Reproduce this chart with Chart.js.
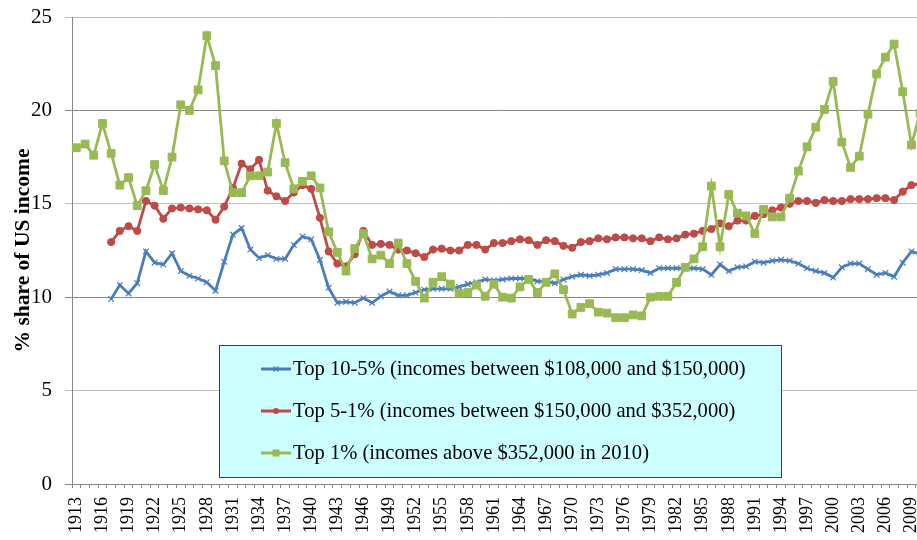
<!DOCTYPE html>
<html>
<head>
<meta charset="utf-8">
<script src="https://cdn.jsdelivr.net/npm/chart.js@4.4.1/dist/chart.umd.min.js"></script>
<style>
  html, body { margin: 0; padding: 0; background: #ffffff; overflow: hidden; width: 917px; height: 540px; }
  canvas { display: block; }
</style>
</head>
<body>
<canvas id="c" width="931" height="540"></canvas>
<script>
const years = [1913,1914,1915,1916,1917,1918,1919,1920,1921,1922,1923,1924,1925,1926,1927,1928,1929,1930,
  1931,1932,1933,1934,1935,1936,1937,1938,1939,1940,1941,1942,1943,1944,1945,1946,1947,1948,1949,1950,
  1951,1952,1953,1954,1955,1956,1957,1958,1959,1960,1961,1962,1963,1964,1965,1966,1967,1968,1969,1970,
  1971,1972,1973,1974,1975,1976,1977,1978,1979,1980,1981,1982,1983,1984,1985,1986,1987,1988,1989,1990,
  1991,1992,1993,1994,1995,1996,1997,1998,1999,2000,2001,2002,2003,2004,2005,2006,2007,2008,2009,2010];

const xTickLabels = [1913,1916,1919,1922,1925,1928,1931,1934,1937,1940,1943,1946,1949,1952,1955,1958,
  1961,1964,1967,1970,1973,1976,1979,1982,1985,1988,1991,1994,1997,2000,2003,2006,2009];

const yTickValues = [0,5,10,15,20,25];

const seriesNames = [
  'Top 10-5% (incomes between $108,000 and $150,000)',
  'Top 5-1% (incomes between $150,000 and $352,000)',
  'Top 1% (incomes above $352,000 in 2010)'
];

// Top 10-5%
const top10to5 = [null,null,null,null,9.9,10.65,10.2,10.75,12.45,11.85,11.75,12.35,11.4,11.15,11.0,10.8,10.35,11.9,
  13.35,13.7,12.55,12.1,12.25,12.05,12.05,12.8,13.25,13.1,12.0,10.5,9.7,9.75,9.7,9.95,9.7,10.05,10.3,10.1,
  10.1,10.25,10.4,10.45,10.45,10.45,10.55,10.7,10.8,10.95,10.9,10.95,11.0,11.0,11.0,10.85,10.85,10.75,10.95,11.1,
  11.2,11.15,11.2,11.3,11.5,11.5,11.5,11.45,11.3,11.55,11.55,11.55,11.55,11.55,11.5,11.2,11.75,11.4,11.6,11.65,
  11.9,11.85,11.95,12.0,11.95,11.8,11.55,11.4,11.3,11.05,11.6,11.8,11.8,11.5,11.2,11.3,11.1,11.85,12.45,12.3];

// Top 5-1%
const top5to1 = [null,null,null,null,12.95,13.55,13.8,13.55,15.15,14.9,14.2,14.75,14.8,14.75,14.7,14.65,14.15,14.85,
  15.85,17.15,16.85,17.35,15.7,15.4,15.15,15.6,16.0,15.8,14.25,12.45,11.8,11.65,12.3,13.55,12.8,12.85,12.8,12.55,
  12.5,12.35,12.15,12.55,12.6,12.5,12.5,12.8,12.8,12.55,12.9,12.9,13.0,13.1,13.05,12.8,13.05,13.0,12.75,12.65,
  12.95,13.0,13.15,13.1,13.2,13.2,13.15,13.15,13.0,13.2,13.1,13.15,13.35,13.4,13.55,13.65,13.95,13.8,14.1,14.1,
  14.35,14.45,14.65,14.8,15.0,15.15,15.15,15.05,15.2,15.15,15.15,15.25,15.25,15.25,15.3,15.3,15.2,15.65,16.0,16.05];

// Top 1%
const top1 = [18.0,18.2,17.6,19.3,17.7,16.0,16.4,14.9,15.7,17.1,15.7,17.5,20.3,20.0,21.1,24.0,22.4,17.3,
  15.6,15.6,16.5,16.5,16.7,19.3,17.2,15.8,16.2,16.5,15.85,13.5,12.4,11.4,12.6,13.4,12.05,12.25,11.8,12.9,
  11.8,10.85,9.95,10.8,11.1,10.7,10.2,10.25,10.65,10.05,10.7,10.0,9.95,10.55,10.95,10.25,10.8,11.25,10.4,9.1,
  9.45,9.65,9.2,9.15,8.9,8.9,9.05,9.0,10.0,10.05,10.05,10.8,11.6,12.05,12.7,15.95,12.7,15.5,14.5,14.35,
  13.4,14.7,14.3,14.3,15.3,16.75,18.05,19.1,20.05,21.55,18.3,16.95,17.55,19.8,21.95,22.85,23.55,21.0,18.15,19.85];

const BLUE = '#4A7EBB', RED = '#BE4B48', GREEN = '#98B954';
const AXIS = '#868686', LIGHTGRID = '#BFBFBF';
const SERIF = "'Liberation Serif', 'Times New Roman', serif";

function drawMarker(ctx, kind, x, y, r, color) {
  ctx.save();
  ctx.fillStyle = color; ctx.strokeStyle = color; ctx.lineWidth = 1.2;
  if (kind === 'crossRot') {
    ctx.beginPath();
    ctx.moveTo(x - r, y - r); ctx.lineTo(x + r, y + r);
    ctx.moveTo(x - r, y + r); ctx.lineTo(x + r, y - r);
    ctx.stroke();
  } else if (kind === 'circle') {
    ctx.beginPath(); ctx.arc(x, y, r, 0, Math.PI * 2); ctx.fill();
  } else {
    ctx.fillRect(x - r, y - r, 2 * r, 2 * r);
  }
  ctx.restore();
}

const legendBox = {
  id: 'legendBox',
  afterDraw(chart) {
    const ctx = chart.ctx;
    ctx.save();
    const bx = 219.5, by = 345.5, bw = 562, bh = 132;
    ctx.fillStyle = '#CCFFFF';
    ctx.fillRect(bx, by, bw, bh);
    ctx.strokeStyle = '#404040'; ctx.lineWidth = 1;
    ctx.strokeRect(bx, by, bw, bh);
    const rows = [369, 411, 453];
    const kinds = ['crossRot', 'circle', 'rect'];
    const sizes = [2.5, 3, 3.5];
    chart.data.datasets.forEach((ds, i) => {
      const y = rows[i];
      ctx.strokeStyle = ds.borderColor; ctx.lineWidth = 3;
      ctx.beginPath(); ctx.moveTo(261, y); ctx.lineTo(291, y); ctx.stroke();
      drawMarker(ctx, kinds[i], 276, y, sizes[i], ds.borderColor);
      ctx.fillStyle = '#000000';
      ctx.font = '20.6px ' + SERIF;
      ctx.textBaseline = 'middle'; ctx.textAlign = 'left';
      ctx.fillText(ds.label, 293, y + 1);
    });
    ctx.restore();
  }
};

new Chart(document.getElementById('c'), {
  type: 'line',
  data: {
    labels: years.map(String),
    datasets: [
      { label: seriesNames[0], data: top10to5, borderColor: BLUE, backgroundColor: BLUE,
        borderWidth: 2.8, pointStyle: 'crossRot', pointRadius: 4, pointBorderWidth: 1.2,
        pointBorderColor: BLUE, order: 2, tension: 0, spanGaps: false },
      { label: seriesNames[1], data: top5to1, borderColor: RED, backgroundColor: RED,
        borderWidth: 2.8, pointStyle: 'circle', pointRadius: 3.6, pointBorderWidth: 1,
        pointBorderColor: RED, order: 1, tension: 0 },
      { label: seriesNames[2], data: top1, borderColor: GREEN, backgroundColor: GREEN,
        borderWidth: 2.8, pointStyle: 'rect', pointRadius: 5.5, pointBorderWidth: 1,
        pointBorderColor: GREEN, order: 0, tension: 0 }
    ]
  },
  options: {
    responsive: false,
    animation: false,
    devicePixelRatio: 1,
    layout: { padding: { left: 0, right: 4, top: 17, bottom: 0 } },
    plugins: { legend: { display: false }, tooltip: { enabled: false }, title: { display: false } },
    scales: {
      x: {
        type: 'category',
        offset: true,
        grid: { offset: true, drawOnChartArea: false, drawTicks: true, tickLength: 4, color: AXIS, lineWidth: 1 },
        border: { display: true, color: AXIS, width: 1 },
        ticks: {
          autoSkip: false, minRotation: 90, maxRotation: 90, padding: 9, color: '#000000',
          font: { family: SERIF, size: 18 },
          callback: function (val, idx) {
            const yr = years[idx];
            return xTickLabels.includes(yr) ? String(yr) : '';
          }
        },
        afterFit: function (scale) {
          scale.height = 56;
          scale.paddingLeft = 0; scale.paddingRight = 0;
        }
      },
      y: {
        min: 0, max: 25,
        afterBuildTicks: function (scale) { scale.ticks = yTickValues.map(v => ({ value: v })); },
        grid: {
          color: function (c) { return (c.tick && c.tick.value % 10 === 0) ? AXIS : LIGHTGRID; },
          lineWidth: 1, tickLength: 7, drawTicks: true
        },
        border: { display: true, color: AXIS, width: 1 },
        ticks: { padding: 13, color: '#000000', font: { family: SERIF, size: 21 } },
        title: {
          display: true, text: '% share of US income', color: '#000000',
          font: { family: SERIF, size: 21.5, weight: 'bold' }, padding: { top: 11, bottom: 0 }
        },
        afterFit: function (scale) {
          scale.width = 72;
          scale.paddingTop = 0; scale.paddingBottom = 0;
        }
      }
    }
  },
  plugins: [legendBox]
});
</script>
</body>
</html>
